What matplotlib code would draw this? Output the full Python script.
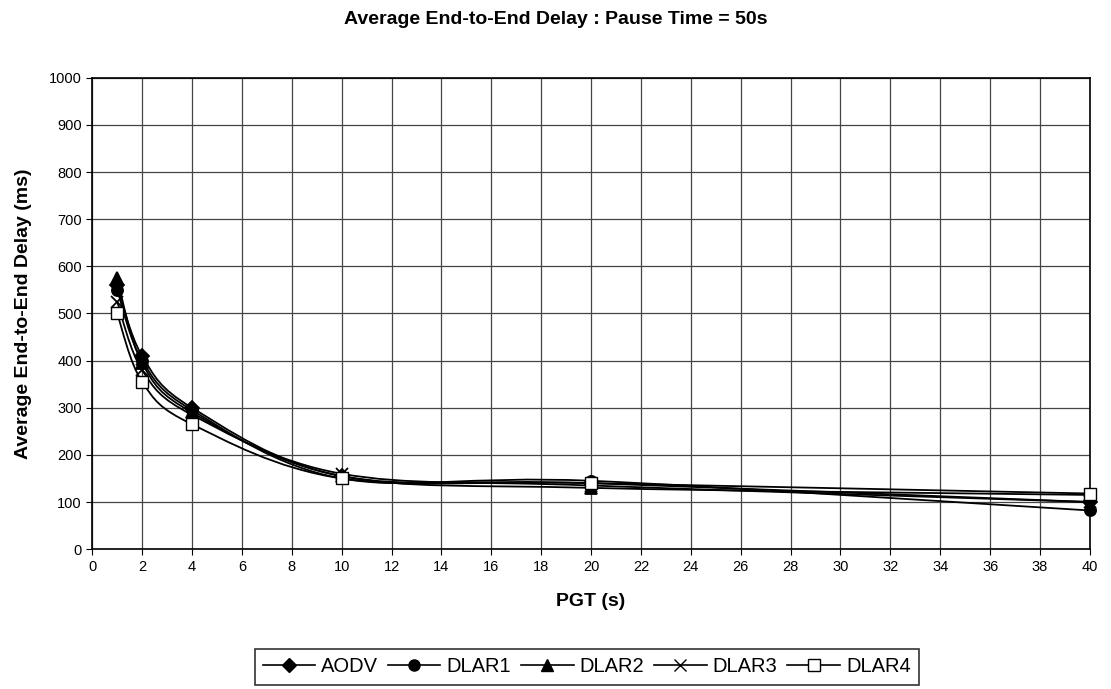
import numpy as np
import matplotlib
matplotlib.use("Agg")
import matplotlib.pyplot as plt
from matplotlib.path import Path
from matplotlib.patches import PathPatch
from matplotlib.lines import Line2D

plt.rcParams['font.family'] = ['Liberation Sans', 'DejaVu Sans']

pgt = [1, 2, 4, 10, 20, 40]
aodv = [560, 410, 300, 155, 140, 100]
dlar1 = [550, 400, 295, 150, 145, 82]
dlar2 = [575, 395, 290, 155, 130, 115]
dlar3 = [525, 380, 285, 160, 135, 100]
dlar4 = [500, 355, 265, 150, 140, 118]

series = [("AODV", aodv, "D", 7), ("DLAR1", dlar1, "o", 8), ("DLAR2", dlar2, "^", 8),
          ("DLAR3", dlar3, "x", 8), ("DLAR4", dlar4, "s", 8)]


def smooth_path(xs, ys):
    # excel-like smoothed line: catmull-rom segments as cubic beziers
    pts = np.column_stack([xs, ys]).astype(float)
    verts = [pts[0]]
    codes = [Path.MOVETO]
    n = len(pts)
    for i in range(n - 1):
        p0 = pts[i - 1] if i > 0 else pts[i]
        p1 = pts[i]
        p2 = pts[i + 1]
        p3 = pts[i + 2] if i + 2 < n else pts[i + 1]
        c1 = p1 + (p2 - p0) / 6.0
        c2 = p2 - (p3 - p1) / 6.0
        verts += [c1, c2, p2]
        codes += [Path.CURVE4] * 3
    return Path(verts, codes)


fig = plt.figure(figsize=(11.11, 6.89), dpi=100)
ax = fig.add_axes([0.083, 0.203, 0.898, 0.684])

for name, vals, mk, ms in series:
    ax.add_patch(PathPatch(smooth_path(pgt, vals), facecolor='none', edgecolor='black', lw=1.3, zorder=3))
    if mk == "s":
        ax.plot(pgt, vals, ls='none', marker=mk, ms=ms, mfc='white', mec='black', mew=1.0,
                zorder=4, clip_on=False)
    else:
        ax.plot(pgt, vals, ls='none', marker=mk, ms=ms, color='black', mew=1.3,
                zorder=4, clip_on=False)

ax.set_xlim(0, 40)
ax.set_ylim(0, 1000)
ax.set_xticks(range(0, 41, 2))
ax.set_yticks(range(0, 1001, 100))
ax.grid(True, color='#444444', lw=0.9)
ax.set_axisbelow(True)
for s in ax.spines.values():
    s.set_color('black')
    s.set_linewidth(1.2)
ax.tick_params(labelsize=10.5, length=4, direction='out')

ax.set_xlabel("PGT (s)", fontsize=14, fontweight='bold', labelpad=14)
ax.set_ylabel("Average End-to-End Delay (ms)", fontsize=14, fontweight='bold', labelpad=12)
fig.text(0.5, 0.972, "Average End-to-End Delay : Pause Time = 50s", ha='center', va='center',
         fontsize=14, fontweight='bold')

handles = []
for name, vals, mk, ms in series:
    if mk == "s":
        h = Line2D([], [], color='black', marker=mk, ms=ms, mfc='white', mec='black', lw=1.2)
    else:
        h = Line2D([], [], color='black', marker=mk, ms=ms, lw=1.2)
    handles.append(h)
leg = fig.legend(handles, [s[0] for s in series], loc='center', bbox_to_anchor=(0.528, 0.032),
                 ncol=5, fontsize=14.5, frameon=True, fancybox=False, edgecolor='black',
                 handlelength=2.6, handletextpad=0.3, columnspacing=0.5, borderpad=0.4)
leg.get_frame().set_linewidth(1.2)

fig.savefig("out.png", dpi=100)
